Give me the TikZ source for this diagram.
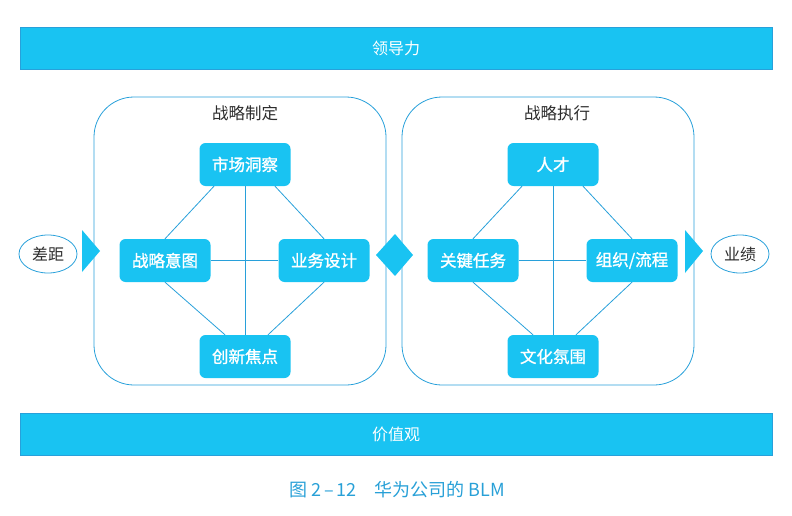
\documentclass[tikz,border=0pt]{standalone}
\usepackage{fontspec}
\setmainfont{Liberation Sans}
\newfontfamily\cjk{Noto Sans CJK SC}
\newfontfamily\cjkbold{Noto Sans CJK SC}[FakeBold=1.2]
\usetikzlibrary{positioning,shapes.geometric}
\definecolor{blmcyan}{RGB}{25,195,242}
\definecolor{blmline}{RGB}{40,160,218}
\definecolor{blmtext}{RGB}{45,45,45}
\definecolor{blmcap}{RGB}{40,160,215}
\begin{document}
\begin{tikzpicture} [x=1pt,y=-1pt,{bandbox/.style={rectangle,fill=blmcyan,draw=blmline,thin,minimum width=752pt,minimum height=42pt,inner sep=0pt,text=white,font=\cjk\fontsize{16}{18}\selectfont}},{taskbox/.style={rectangle,rounded corners=6pt,fill=blmcyan,text=white,minimum width=91pt,minimum height=43pt,inner sep=0pt,font=\cjkbold\fontsize{16.5}{18}\selectfont}},{stagebox/.style={rectangle,rounded corners=40pt,draw=blmline,line width=0.8pt,minimum width=292pt,minimum height=288pt}},{endpoint/.style={ellipse,draw=blmline,line width=0.8pt,minimum width=58pt,minimum height=38pt,inner sep=0pt,text=blmtext,font=\cjk\fontsize{16}{18}\selectfont}},{stagetitle/.style={text=blmtext,font=\cjk\fontsize{16.5}{18}\selectfont}},{linest/.style={color=blmline,line width=0.8pt}}]
		\useasboundingbox (0,0) rectangle (792,516);
		%%bands
		\node at (396,48) [bandbox] (lead) {领导力};
		\node at (396,434) [bandbox] (value) {价值观};
		%%stage frames
		\node at (240,241) [stagebox] (plan) {};
		\node at (548,241) [stagebox] (exec) {};
		\node at (245,113) [stagetitle] (plantitle) {战略制定};
		\node at (557,113) [stagetitle] (exectitle) {战略执行};
		%%strategy nodes
		\node at (245,164.5) [taskbox] (market) {市场洞察};
		\node at (165,260.5) [taskbox] (intent) {战略意图};
		\node at (324,260.5) [taskbox] (design) {业务设计};
		\node at (245,356.5) [taskbox] (innov) {创新焦点};
		%%execution nodes
		\node at (553,164.5) [taskbox] (talent) {人才};
		\node at (473,260.5) [taskbox] (task) {关键任务};
		\node at (632,260.5) [taskbox] (org) {组织/流程};
		\node at (553,356.5) [taskbox] (culture) {文化氛围};
		%%gap and result
		\node at (48,254) [endpoint] (gap) {差距};
		\node at (740,254) [endpoint] (result) {业绩};
		%%links
		\draw [linest] ([xshift=-31pt]market.south) -- (intent.north);
		\draw [linest] ([xshift=30pt]market.south) -- (design.north);
		\draw [linest] (intent.south) -- ([xshift=-20pt]innov.north);
		\draw [linest] (design.south) -- ([xshift=23pt]innov.north);
		\draw [linest] (market) -- (innov);
		\draw [linest] (intent) -- (design);
		\draw [linest] ([xshift=-31pt]talent.south) -- (task.north);
		\draw [linest] ([xshift=30pt]talent.south) -- (org.north);
		\draw [linest] (task.south) -- ([xshift=-20pt]culture.north);
		\draw [linest] (org.south) -- ([xshift=23pt]culture.north);
		\draw [linest] (talent) -- (culture);
		\draw [linest] (task) -- (org);
		%%arrows
		\fill [blmcyan] (82,230) -- (100,251) -- (82,272) -- cycle;
		\fill [blmcyan] (376,255) -- (395,234) -- (413,255) -- (395,276) -- cycle;
		\fill [blmcyan] (685,230) -- (703,251) -- (685,273) -- cycle;
		%%caption
		\node at (397,490) [text=blmcap,font=\cjk\fontsize{18}{20}\selectfont] (caption) {图 2\,–\,12\quad 华为公司的 BLM};
	\end{tikzpicture}
\end{document}
